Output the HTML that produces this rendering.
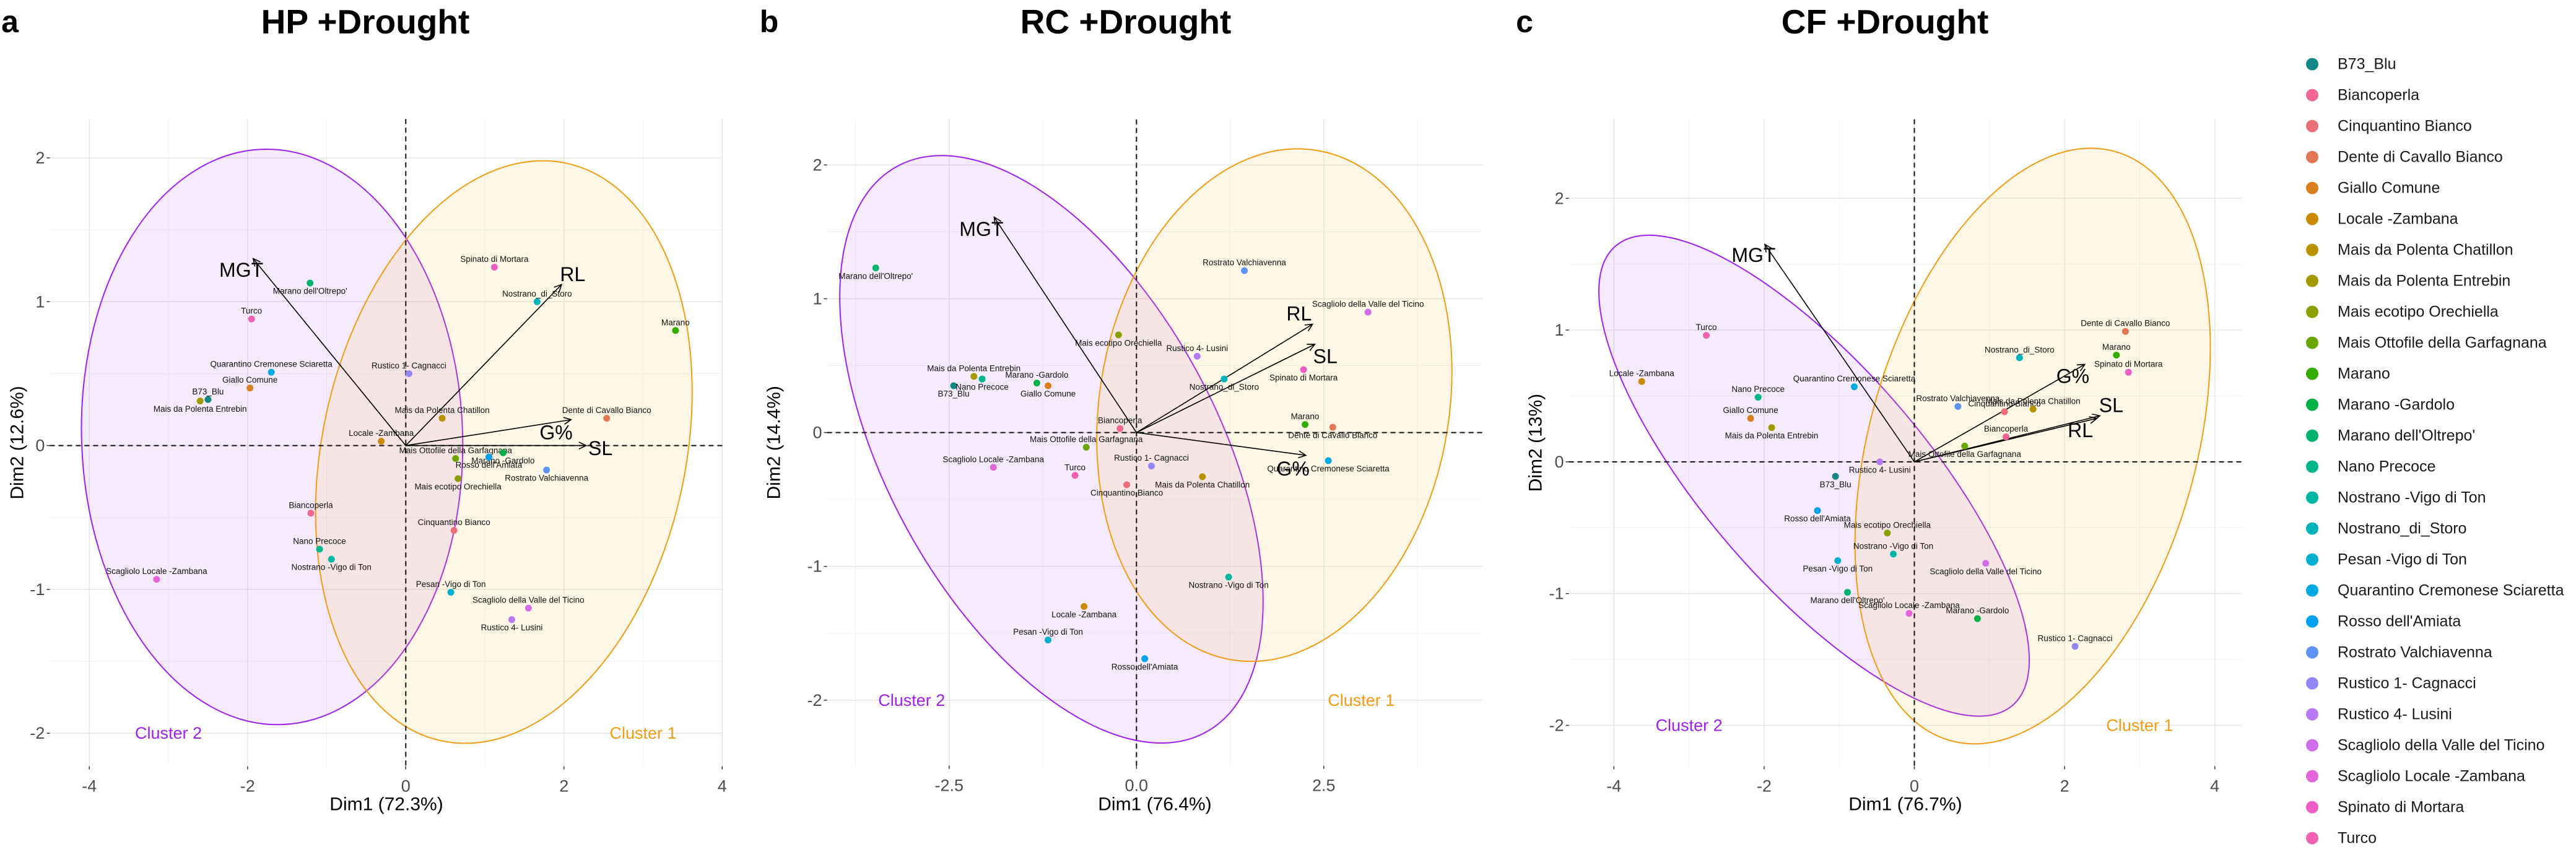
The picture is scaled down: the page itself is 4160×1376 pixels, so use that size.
<!DOCTYPE html>
<html><head><meta charset="utf-8"><style>
html,body{margin:0;padding:0;background:#fff;}
svg{display:block;font-family:"Liberation Sans",Arial,sans-serif;}
</style></head><body>
<svg id="chart" width="4160" height="1376" viewBox="0 0 4160 1376" xmlns="http://www.w3.org/2000/svg"></svg>
<script>
const names = ["B73_Blu","Biancoperla","Cinquantino Bianco","Dente di Cavallo Bianco","Giallo Comune","Locale -Zambana","Mais da Polenta Chatillon","Mais da Polenta Entrebin","Mais ecotipo Orechiella","Mais Ottofile della Garfagnana","Marano","Marano -Gardolo","Marano dell'Oltrepo'","Nano Precoce","Nostrano -Vigo di Ton","Nostrano_di_Storo","Pesan -Vigo di Ton","Quarantino Cremonese Sciaretta","Rosso dell'Amiata","Rostrato Valchiavenna","Rustico 1- Cagnacci","Rustico 4- Lusini","Scagliolo della Valle del Ticino","Scagliolo Locale -Zambana","Spinato di Mortara","Turco"];
const hpX = [-2.50,-1.20,0.61,2.54,-1.97,-0.31,0.46,-2.60,0.66,0.63,3.41,1.23,-1.21,-1.09,-0.94,1.66,0.57,-1.70,1.05,1.78,0.04,1.34,1.55,-3.15,1.12,-1.95];
const hpY = [0.32,-0.47,-0.59,0.19,0.40,0.03,0.19,0.31,-0.23,-0.09,0.80,-0.05,1.13,-0.72,-0.79,1.00,-1.02,0.51,-0.08,-0.17,0.50,-1.21,-1.13,-0.93,1.24,0.88];
const hpLab = "aaaaaaabbaabbabaaabbabaaaa";
const rcX = [-2.44,-0.22,-0.13,2.62,-1.18,-0.70,0.88,-2.17,-0.24,-0.67,2.25,-1.33,-3.48,-2.06,1.23,1.17,-1.18,2.56,0.11,1.44,0.20,0.81,3.09,-1.91,2.23,-0.82];
const rcY = [0.35,0.03,-0.39,0.04,0.35,-1.30,-0.33,0.42,0.73,-0.11,0.06,0.37,1.23,0.40,-1.08,0.40,-1.55,-0.21,-1.69,1.21,-0.25,0.57,0.90,-0.26,0.47,-0.32];
const rcLab = "babbbbbabaaabbbbabbaaaaaba";
const cfX = [-1.05,1.22,1.20,2.81,-2.18,-3.63,1.58,-1.90,-0.36,0.67,2.69,0.84,-0.89,-2.08,-0.28,1.40,-1.02,-0.80,-1.29,0.58,2.14,-0.46,0.95,-0.07,2.85,-2.77];
const cfY = [-0.11,0.19,0.38,0.99,0.33,0.61,0.40,0.26,-0.54,0.12,0.81,-1.19,-0.99,0.49,-0.70,0.79,-0.75,0.57,-0.37,0.42,-1.40,0.00,-0.77,-1.15,0.68,0.96];
const cfLab = "baaaaaababaabaaababaabbaaa";
const hpVars = ["MGT","RL","G%","SL"];
const hpVX = [-1.93,1.97,2.09,2.28];
const hpVY = [1.30,1.12,0.18,0.0];
const hpVLX = [-2.08,2.11,1.90,2.46];
const hpVLY = [1.22,1.19,0.09,-0.02];
const rcVars = ["MGT","RL","SL","G%"];
const rcVX = [-1.90,2.35,2.38,2.26];
const rcVY = [1.61,0.81,0.66,-0.17];
const rcVLX = [-2.07,2.17,2.52,2.09];
const rcVLY = [1.52,0.89,0.57,-0.27];
const cfVars = ["MGT","G%","SL","RL"];
const cfVX = [-1.99,2.27,2.47,2.43];
const cfVY = [1.65,0.74,0.35,0.33];
const cfVLX = [-2.14,2.11,2.62,2.21];
const cfVLY = [1.57,0.65,0.43,0.24];
// ellipses: [left, right, top, bottom, x-at-top] in data units; cluster2 then cluster1
const hpEll2 = [-4.10,0.72,2.06,-1.94,-1.76];
const hpEll1 = [-1.14,3.62,1.98,-2.07,1.73];
const rcEll2 = [-3.96,1.69,2.07,-2.32,-2.60];
const rcEll1 = [-0.53,4.21,2.12,-1.71,2.15];
const cfEll2 = [-4.20,1.53,1.72,-1.93,-3.53];
const cfEll1 = [-0.79,3.94,2.38,-2.14,2.35];
const ticksStd = [-4,-2,0,2,4];
const ticksStdLab = ["-4","-2","0","2","4"];
const ticksRC = [-2.5,0,2.5];
const ticksRCLab = ["-2.5","0.0","2.5"];
const yTicks = [-2,-1,0,1,2];
const yTickLab = ["-2","-1","0","1","2"];

const NS="http://www.w3.org/2000/svg";
const svg=document.getElementById('chart');
function mk(tag,attrs,parent){const e=document.createElementNS(NS,tag);for(const k in attrs)e.setAttribute(k,attrs[k]);(parent||svg).appendChild(e);return e;}

function hcl(h,c,l){
  const Xn=95.047,Yn=100,Zn=108.883;
  const un=4*Xn/(Xn+15*Yn+3*Zn), vn=9*Yn/(Xn+15*Yn+3*Zn);
  const Y=Yn*Math.pow((l+16)/116,3);
  const hr=h*Math.PI/180;const u=c*Math.cos(hr), v=c*Math.sin(hr);
  const up=u/(13*l)+un, vp=v/(13*l)+vn;
  const X=Y*9*up/(4*vp), Z=Y*(12-3*up-20*vp)/(4*vp);
  const x=X/100,y=Y/100,z=Z/100;
  let r=3.2406*x-1.5372*y-0.4986*z, g=-0.9689*x+1.8758*y+0.0415*z, b=0.0557*x-0.2040*y+1.0570*z;
  const f=t=>{t=t<=0.0031308?12.92*t:1.055*Math.pow(t,1/2.4)-0.055;return Math.round(Math.max(0,Math.min(1,t))*255);};
  return `rgb(${f(r)},${f(g)},${f(b)})`;
}
const colors=names.map((n,i)=> i===0 ? '#138785' : hcl(-5+(i-1)*14.4,92,62));

function panel(cfg){
  const g=mk('g',{});
  
  
  const sx=v=>cfg.x0+v*cfg.ux, sy=v=>cfg.y0-v*cfg.uy;
  const L=sx(cfg.xr[0]),R=sx(cfg.xr[1]),T=sy(cfg.yr[1]),B=sy(cfg.yr[0]);
  const grid=mk('g',{},g);
  
  
  const xt=cfg.xticks, step=xt[1]-xt[0];
  const minorX=[];for(let v=xt[0]-step/2;v<=cfg.xr[1];v+=step)if(v>=cfg.xr[0])minorX.push(v);
  minorX.forEach(v=>mk('line',{x1:sx(v),x2:sx(v),y1:T,y2:B,stroke:'#f2f2f2','stroke-width':1},grid));
  [-1.5,-0.5,0.5,1.5].forEach(v=>{if(v>cfg.yr[0]&&v<cfg.yr[1])mk('line',{x1:L,x2:R,y1:sy(v),y2:sy(v),stroke:'#f2f2f2','stroke-width':1},grid);});
  xt.forEach(v=>mk('line',{x1:sx(v),x2:sx(v),y1:T,y2:B,stroke:'#e6e6e6','stroke-width':1.5},grid));
  yTicks.forEach(v=>mk('line',{x1:L,x2:R,y1:sy(v),y2:sy(v),stroke:'#e6e6e6','stroke-width':1.5},grid));
  // ellipses
  [[cfg.e2,'#a020f0','rgba(160,32,240,0.09)','cluster-2-ellipse'],[cfg.e1,'#f39c12','rgba(255,190,60,0.13)','cluster-1-ellipse']].forEach(([e,st,fi,nm])=>{
    const l=sx(e[0]),r=sx(e[1]),t=sy(e[2]),b=sy(e[3]),tx=sx(e[4]);
    const cx=(l+r)/2,cy=(t+b)/2,W=(r-l)/2,H=(b-t)/2,ox=tx-cx;
    const sxy=-ox*H;
    const m=(W*W+H*H)/2, d=Math.sqrt(Math.pow((W*W-H*H)/2,2)+sxy*sxy);
    const a=Math.sqrt(m+d), bb=Math.sqrt(Math.max(1,m-d));
    const th=0.5*Math.atan2(2*sxy,W*W-H*H)*180/Math.PI;
    const el=mk('ellipse',{cx:cx,cy:cy,rx:a,ry:bb,transform:`rotate(${th} ${cx} ${cy})`,fill:fi,stroke:st,'stroke-width':2},g);
    
    
  });
  // dashed axes
  mk('line',{x1:L,x2:R,y1:sy(0),y2:sy(0),stroke:'#111','stroke-width':2,'stroke-dasharray':'8,6'},g);
  mk('line',{x1:sx(0),x2:sx(0),y1:T,y2:B,stroke:'#111','stroke-width':2,'stroke-dasharray':'8,6'},g);
  // arrows
  cfg.vars.forEach((n,i)=>{
    const x2=sx(cfg.vx[i]),y2=sy(cfg.vy[i]),x1=sx(0),y1=sy(0);
    const ang=Math.atan2(y2-y1,x2-x1),hl=13,ha=0.45;
    const ag=mk('g',{},g);
    
    
    mk('line',{x1:x1,y1:y1,x2:x2,y2:y2,stroke:'#000','stroke-width':1.6},ag);
    mk('polyline',{points:`${x2-hl*Math.cos(ang-ha)},${y2-hl*Math.sin(ang-ha)} ${x2},${y2} ${x2-hl*Math.cos(ang+ha)},${y2-hl*Math.sin(ang+ha)}`,fill:'none',stroke:'#000','stroke-width':1.6},ag);
    const t=mk('text',{x:sx(cfg.vlx[i]),y:sy(cfg.vly[i]),'font-size':32,'text-anchor':'middle','dominant-baseline':'central',fill:'#000'},ag);
    t.textContent=n;
  });
  // points
  cfg.px.forEach((v,i)=>{
    const cx=sx(v),cy=sy(cfg.py[i]);
    const c=mk('circle',{cx:cx,cy:cy,r:5.5,fill:colors[i]},g);
    
    
    const t=mk('text',{x:cx,y:cy+(cfg.lab[i]==='a'?-13:13),'font-size':13.5,'text-anchor':'middle','dominant-baseline':'central',fill:'#111'},g);
    
    
    t.textContent=names[i];
  });
  // cluster labels
  [['Cluster 2',-3,'#a020f0'],['Cluster 1',3,'#f39c12']].forEach(([s,xv,col])=>{
    const t=mk('text',{x:sx(xv),y:sy(-2),'font-size':27,'text-anchor':'middle','dominant-baseline':'central',fill:col},g);
    
    
    t.textContent=s;
  });
  // axes ticks
  xt.forEach((v,i)=>{
    mk('line',{x1:sx(v),x2:sx(v),y1:B,y2:B+5,stroke:'#333','stroke-width':1.5},g);
    const t=mk('text',{x:sx(v),y:B+32,'font-size':27,'text-anchor':'middle','dominant-baseline':'central',fill:'#4d4d4d'},g);
    
    
    t.textContent=cfg.xtl[i];
  });
  yTicks.forEach((v,i)=>{
    mk('line',{x1:L-5,x2:L,y1:sy(v),y2:sy(v),stroke:'#333','stroke-width':1.5},g);
    const t=mk('text',{x:L-8,y:sy(v),'font-size':27,'text-anchor':'end','dominant-baseline':'central',fill:'#4d4d4d'},g);
    
    
    t.textContent=yTickLab[i];
  });
  const xtit=mk('text',{x:(L+R)/2,y:1299,'font-size':30,'text-anchor':'middle','dominant-baseline':'central',fill:'#000'},g);
  
  
  xtit.textContent=cfg.xlab;
  const ytit=mk('text',{x:cfg.yTitX,y:(T+B)/2,'font-size':30,'text-anchor':'middle','dominant-baseline':'central',fill:'#000',transform:`rotate(-90 ${cfg.yTitX} ${(T+B)/2})`},g);
  
  
  ytit.textContent=cfg.ylab;
  const tt=mk('text',{x:cfg.titleX,y:35,'font-size':55,'font-weight':'bold','text-anchor':'middle','dominant-baseline':'central',fill:'#000'},g);
  
  
  tt.textContent=cfg.title;
  const lt=mk('text',{x:cfg.letterX,y:35,'font-size':50,'font-weight':'bold','text-anchor':'middle','dominant-baseline':'central',fill:'#000'},g);
  
  
  lt.textContent=cfg.letter;
}

panel({id:'hp',x0:655.3,ux:127.75,y0:719.6,uy:232.3,xr:[-4.5,4.01],yr:[-2.23,2.27],xticks:ticksStd,xtl:ticksStdLab,
  px:hpX,py:hpY,lab:hpLab,vars:hpVars,vx:hpVX,vy:hpVY,vlx:hpVLX,vly:hpVLY,e2:hpEll2,e1:hpEll1,
  xlab:'Dim1 (72.3%)',ylab:'Dim2 (12.6%)',yTitX:28,title:'HP +Drought',titleX:590,letter:'a',letterX:16});
panel({id:'rc',x0:1835.3,ux:121.0,y0:698.6,uy:216.1,xr:[-4.13,4.62],yr:[-2.49,2.34],xticks:ticksRC,xtl:ticksRCLab,
  px:rcX,py:rcY,lab:rcLab,vars:rcVars,vx:rcVX,vy:rcVY,vlx:rcVLX,vly:rcVLY,e2:rcEll2,e1:rcEll1,
  xlab:'Dim1 (76.4%)',ylab:'Dim2 (14.4%)',yTitX:1250,title:'RC +Drought',titleX:1818,letter:'b',letterX:1242});
panel({id:'cf',x0:3091.5,ux:121.3,y0:745.9,uy:212.8,xr:[-4.6,4.36],yr:[-2.31,2.6],xticks:ticksStd,xtl:ticksStdLab,
  px:cfX,py:cfY,lab:cfLab,vars:cfVars,vx:cfVX,vy:cfVY,vlx:cfVLX,vly:cfVLY,e2:cfEll2,e1:cfEll1,
  xlab:'Dim1 (76.7%)',ylab:'Dim2 (13%)',yTitX:2480,title:'CF +Drought',titleX:3044,letter:'c',letterX:2462});

// legend
const lg=mk('g',{});


names.forEach((n,i)=>{
  const y=103.6+i*50;
  const e=mk('g',{},lg);
  
  
  mk('circle',{cx:3734,cy:y,r:10,fill:colors[i]},e);
  const t=mk('text',{x:3775,y:y,'font-size':25,'dominant-baseline':'central',fill:'#1a1a1a'},e);
  t.textContent=n;
});
</script>
</body></html>
